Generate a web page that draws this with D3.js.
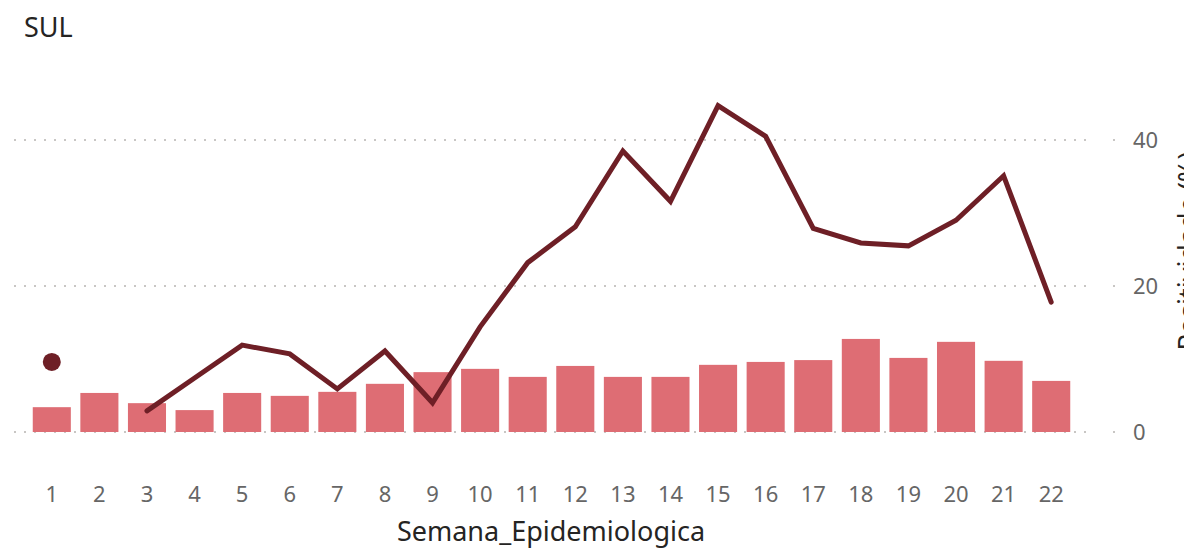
<!DOCTYPE html>
<html>
<head>
<meta charset="utf-8">
<script src="https://cdn.jsdelivr.net/npm/d3@7"></script>
<style>
  body { margin: 0; background: #fff; overflow: hidden; }
  svg { display: block; font-family: "Noto Sans", "Open Sans", sans-serif; }
</style>
</head>
<body>
<svg id="chart" width="1184" height="548"></svg>
<script>
// semanas epidemiologicas
var semanas = d3.range(1, 23).map(String)

// bar series (hidden left axis, amostras)
var amostras = [68, 107, 79, 60, 107, 99, 110, 132, 164, 173, 151,
  181, 151, 151, 184, 192, 197, 255, 203, 247, 195, 140]

// line series, positividade (%) - semana 2 sem dado
var positividade = [9.6, null, 2.9, 7.4, 11.9, 10.7, 5.9, 11.1, 4.0, 14.4, 23.2,
  28.1, 38.5, 31.6, 44.7, 40.5, 27.9, 25.9, 25.5, 29.0, 35.1, 17.8]

var rightTicks = [0, 20, 40]

var svg = d3.select('#chart')

var x = d3.scaleBand()
  .domain(semanas)
  .range([28, 1075])
  .paddingInner(0.2)
  .paddingOuter(0.1)

var yLeft = d3.scaleLinear().domain([0, 1000]).range([432, 67])
var yRight = d3.scaleLinear().domain([0, 50]).range([432, 67])

// gridlines
var grid = svg.append('g')
grid.selectAll('line')
  .data(rightTicks)
  .enter().append('line')
  .attr('x1', 14)
  .attr('x2', 1091)
  .attr('y1', function (d) { return yRight(d) })
  .attr('y2', function (d) { return yRight(d) })
  .attr('stroke', '#c8c6c4')
  .attr('stroke-width', 2)
  .attr('stroke-dasharray', '2,8')
grid.selectAll('rect')
  .data(rightTicks)
  .enter().append('rect')
  .attr('x', 1113)
  .attr('y', function (d) { return yRight(d) - 1 })
  .attr('width', 2)
  .attr('height', 2)
  .attr('fill', '#c8c6c4')

// bars
svg.append('g').selectAll('rect')
  .data(amostras)
  .enter().append('rect')
  .attr('x', function (d, i) { return x(semanas[i]) })
  .attr('width', x.bandwidth())
  .attr('y', function (d) { return yLeft(d) })
  .attr('height', function (d) { return yLeft(0) - yLeft(d) })
  .attr('fill', '#de6d74')

// line
var line = d3.line()
  .defined(function (d) { return d !== null })
  .x(function (d, i) { return x(semanas[i]) + x.bandwidth() / 2 })
  .y(function (d) { return yRight(d) })

svg.append('path')
  .datum(positividade)
  .attr('d', line)
  .attr('fill', 'none')
  .attr('stroke', '#6e1f26')
  .attr('stroke-width', 5)
  .attr('stroke-linejoin', 'miter')
  .attr('stroke-linecap', 'round')

// isolated points (no neighbours)
svg.append('g').selectAll('circle')
  .data(positividade.map(function (d, i) {
    var prev = i > 0 ? positividade[i - 1] : null
    var next = i < positividade.length - 1 ? positividade[i + 1] : null
    return { v: d, i: i, alone: d !== null && prev === null && next === null }
  }).filter(function (d) { return d.alone }))
  .enter().append('circle')
  .attr('cx', function (d) { return x(semanas[d.i]) + x.bandwidth() / 2 })
  .attr('cy', function (d) { return yRight(d.v) })
  .attr('r', 9)
  .attr('fill', '#6e1f26')

// x axis
var xAxis = svg.append('g')
  .attr('transform', 'translate(0,' + 494 + ')')
  .call(d3.axisBottom(x).tickSize(0).tickPadding(0))
xAxis.select('.domain').remove()
xAxis.selectAll('text')
  .attr('dy', '0.35em')
  .attr('font-size', 22)
  .attr('fill', '#666666')
  .style('font-family', '"Noto Sans", sans-serif')

// right axis
var yAxis = svg.append('g')
  .attr('transform', 'translate(1133,0)')
  .call(d3.axisRight(yRight).tickValues(rightTicks).tickSize(0).tickPadding(0))
yAxis.select('.domain').remove()
yAxis.selectAll('text')
  .attr('font-size', 22)
  .attr('fill', '#666666')
  .style('font-family', '"Noto Sans", sans-serif')

// titles
svg.append('text')
  .attr('x', 24)
  .attr('y', 37)
  .attr('font-size', 27)
  .attr('fill', '#252423')
  .text('SUL')

svg.append('text')
  .attr('x', 551)
  .attr('y', 541)
  .attr('text-anchor', 'middle')
  .attr('font-size', 27)
  .attr('fill', '#252423')
  .text('Semana_Epidemiologica')

// right axis title, cut by the right edge as in the original
svg.append('text')
  .attr('transform', 'translate(1198,251) rotate(-90)')
  .attr('text-anchor', 'middle')
  .attr('font-size', 27)
  .attr('fill', '#252423')
  .text('Positividade (%)')
</script>
</body>
</html>
